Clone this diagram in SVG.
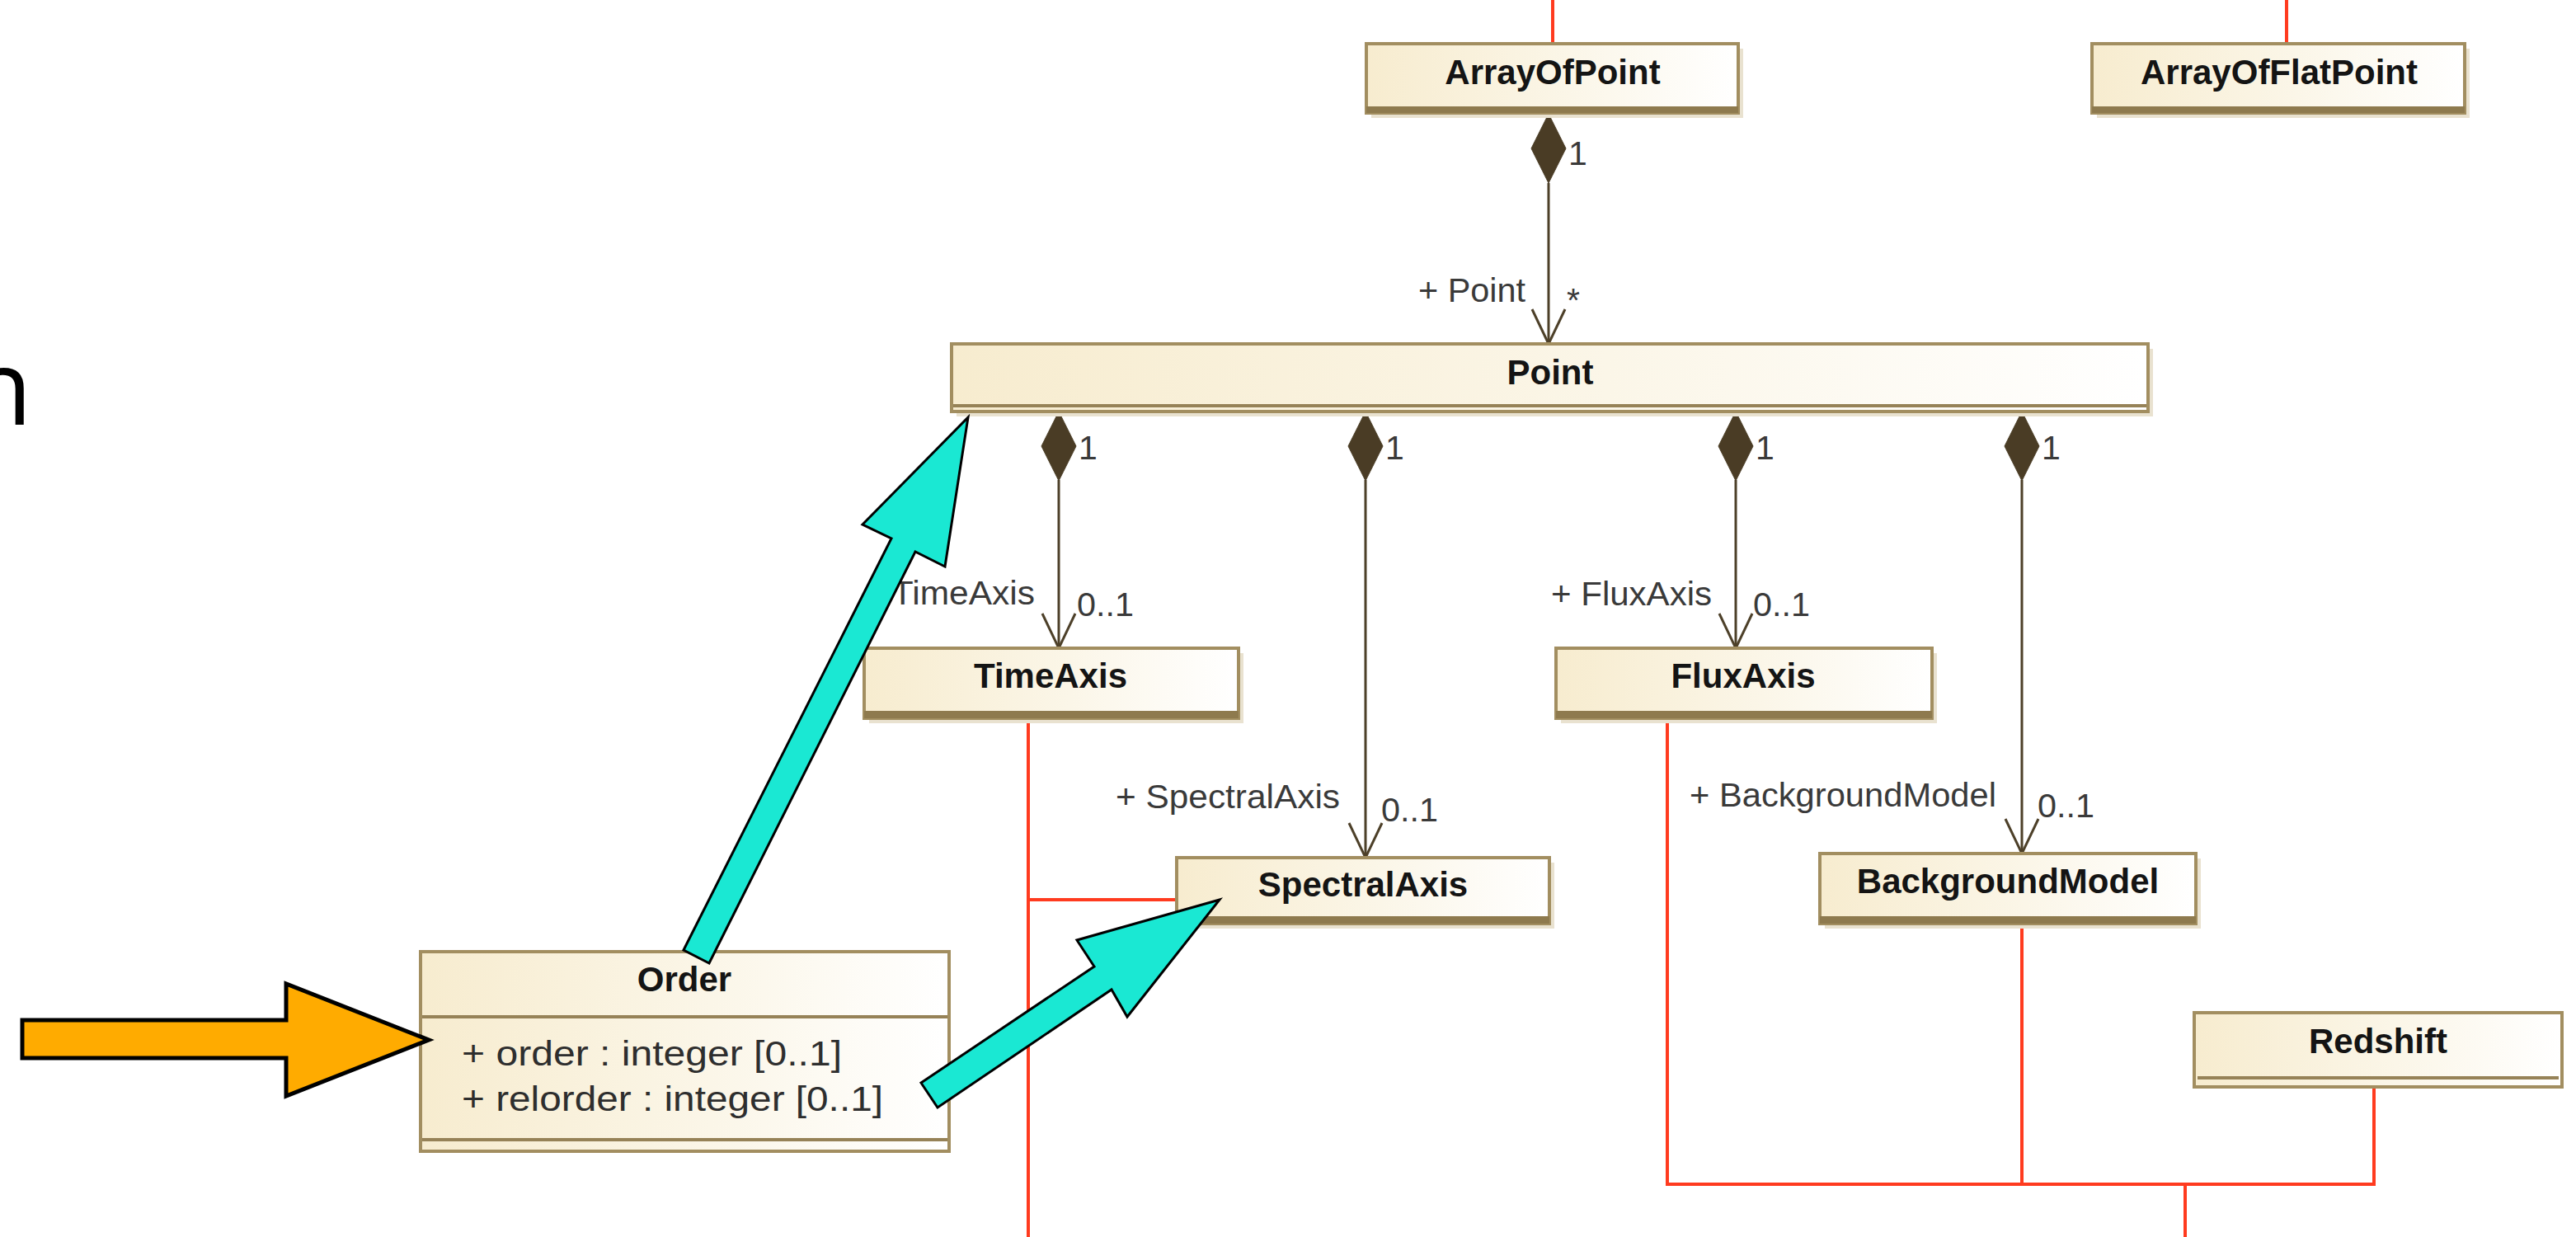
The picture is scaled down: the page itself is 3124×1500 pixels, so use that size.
<svg xmlns="http://www.w3.org/2000/svg" xmlns:xlink="http://www.w3.org/1999/xlink" width="3124" height="1500" viewBox="0 0 3124 1500">
  <defs>
    <linearGradient id="classFill" x1="0" y1="0" x2="1" y2="0">
      <stop offset="0" stop-color="#F7ECCF"/>
      <stop offset="0.55" stop-color="#FBF6E8"/>
      <stop offset="1" stop-color="#FFFFFF"/>
    </linearGradient>
    <!-- filled composition diamond, tip at origin pointing up -->
    <path id="diamond" d="M0,0 L21,42 L0,84 L-21,42 Z"/>
    <!-- open navigability arrowhead, tip at origin pointing down -->
    <path id="vee" d="M-20,-42 L0,0 L20,-42"/>
    <style>
      .shadow { fill: #E9E2D0; }
      .box { fill: url(#classFill); stroke: #A28E60; stroke-width: 4; }
      .band { fill: #8E7A4E; }
      .sep { stroke: #968257; stroke-width: 4; fill: none; }
      .name { font-family: "Liberation Sans", Arial, sans-serif; font-weight: bold; font-size: 42px; fill: #141414; text-anchor: middle; }
      .attr { font-family: "Liberation Sans", Arial, sans-serif; font-size: 42px; fill: #2E2E2E; }
      .role { font-family: "Liberation Sans", Arial, sans-serif; font-size: 41px; fill: #3A3A3A; }
      .assoc { stroke: #4D4029; stroke-width: 3; fill: none; }
      .dia { fill: #4A3C25; stroke: #4A3C25; stroke-width: 1; }
      .vee { stroke: #4D4029; stroke-width: 3; fill: none; }
      .gen { stroke: #FF3B1F; stroke-width: 4; fill: none; }
      .callout { fill: #1AE8D3; stroke: #000; stroke-width: 3; stroke-linejoin: miter; }
      .pointer { fill: #FFAB00; stroke: #000; stroke-width: 5; stroke-linejoin: miter; }
      .big { font-family: "Open Sans", "Liberation Sans", sans-serif; font-size: 126px; fill: #000; }
    </style>
  </defs>

  <rect width="3124" height="1500" fill="#FFFFFF"/>

  <!-- fragment of a slide caption running off the left edge -->
  <text class="big" x="39" y="515" text-anchor="end">n</text>

  <!-- hierarchy lines (red) -->
  <g id="hierarchy">
    <path class="gen" d="M1883,0 V53"/>
    <path class="gen" d="M2773,0 V53"/>
    <path class="gen" d="M1247,873 V1500 M1247,1091 H1427"/>
    <path class="gen" d="M2022,873 V1436 H2879 V1320"/>
    <path class="gen" d="M2452,1122 V1436"/>
    <path class="gen" d="M2650,1436 V1500"/>
  </g>

  <!-- compositions -->
  <g id="connectors">
    <path class="assoc" d="M1878,222 V417"/>
    <path class="assoc" d="M1284,582 V786"/>
    <path class="assoc" d="M1656,582 V1040"/>
    <path class="assoc" d="M2105,582 V786"/>
    <path class="assoc" d="M2452,582 V1035"/>

    <use href="#diamond" xlink:href="#diamond" class="dia" x="1878" y="138"/>
    <use href="#diamond" xlink:href="#diamond" class="dia" x="1284" y="499"/>
    <use href="#diamond" xlink:href="#diamond" class="dia" x="1656" y="499"/>
    <use href="#diamond" xlink:href="#diamond" class="dia" x="2105" y="499"/>
    <use href="#diamond" xlink:href="#diamond" class="dia" x="2452" y="499"/>

    <use href="#vee" xlink:href="#vee" class="vee" x="1878" y="417"/>
    <use href="#vee" xlink:href="#vee" class="vee" x="1284" y="786"/>
    <use href="#vee" xlink:href="#vee" class="vee" x="1656" y="1040"/>
    <use href="#vee" xlink:href="#vee" class="vee" x="2105" y="786"/>
    <use href="#vee" xlink:href="#vee" class="vee" x="2452" y="1035"/>

    <text class="role" x="1902" y="200">1</text>
    <text class="role" x="1308" y="557">1</text>
    <text class="role" x="1680" y="557">1</text>
    <text class="role" x="2129" y="557">1</text>
    <text class="role" x="2476" y="557">1</text>

    <text class="role" x="1720" y="366" textLength="130" lengthAdjust="spacingAndGlyphs">+ Point</text>
    <text class="role" x="1900" y="378">*</text>

    <text class="role" x="1046" y="733" textLength="209" lengthAdjust="spacingAndGlyphs">+ TimeAxis</text>
    <text class="role" x="1306" y="747" textLength="69" lengthAdjust="spacingAndGlyphs">0..1</text>

    <text class="role" x="1881" y="734" textLength="195" lengthAdjust="spacingAndGlyphs">+ FluxAxis</text>
    <text class="role" x="2126" y="747" textLength="69" lengthAdjust="spacingAndGlyphs">0..1</text>

    <text class="role" x="1353" y="980" textLength="272" lengthAdjust="spacingAndGlyphs">+ SpectralAxis</text>
    <text class="role" x="1675" y="996" textLength="69" lengthAdjust="spacingAndGlyphs">0..1</text>

    <text class="role" x="2049" y="978" textLength="372" lengthAdjust="spacingAndGlyphs">+ BackgroundModel</text>
    <text class="role" x="2471" y="991" textLength="69" lengthAdjust="spacingAndGlyphs">0..1</text>
  </g>

  <!-- classes -->
  <g id="ArrayOfPoint">
    <rect class="shadow" x="1663" y="59" width="451" height="84"/>
    <rect class="box" x="1657" y="53" width="451" height="84"/>
    <rect class="band" x="1657" y="129" width="451" height="8"/>
    <text class="name" x="1883" y="102">ArrayOfPoint</text>
  </g>

  <g id="ArrayOfFlatPoint">
    <rect class="shadow" x="2543" y="59" width="452" height="84"/>
    <rect class="box" x="2537" y="53" width="452" height="84"/>
    <rect class="band" x="2537" y="129" width="452" height="8"/>
    <text class="name" x="2764" y="102">ArrayOfFlatPoint</text>
  </g>

  <g id="Point">
    <rect class="shadow" x="1160" y="423" width="1451" height="82"/>
    <rect class="box" x="1154" y="417" width="1451" height="82"/>
    <path class="sep" d="M1156,492 H2603"/>
    <text class="name" x="1880" y="466">Point</text>
  </g>

  <g id="TimeAxis">
    <rect class="shadow" x="1054" y="792" width="454" height="85"/>
    <rect class="box" x="1048" y="786" width="454" height="85"/>
    <rect class="band" x="1048" y="862" width="454" height="9"/>
    <text class="name" x="1274" y="834">TimeAxis</text>
  </g>

  <g id="FluxAxis">
    <rect class="shadow" x="1893" y="792" width="456" height="85"/>
    <rect class="box" x="1887" y="786" width="456" height="85"/>
    <rect class="band" x="1887" y="862" width="456" height="9"/>
    <text class="name" x="2114" y="834">FluxAxis</text>
  </g>

  <g id="SpectralAxis">
    <rect class="shadow" x="1433" y="1046" width="452" height="80"/>
    <rect class="box" x="1427" y="1040" width="452" height="80"/>
    <rect class="band" x="1427" y="1111" width="452" height="9"/>
    <text class="name" x="1653" y="1087">SpectralAxis</text>
  </g>

  <g id="BackgroundModel">
    <rect class="shadow" x="2213" y="1041" width="456" height="85"/>
    <rect class="box" x="2207" y="1035" width="456" height="85"/>
    <rect class="band" x="2207" y="1111" width="456" height="9"/>
    <text class="name" x="2435" y="1083">BackgroundModel</text>
  </g>

  <g id="Redshift">
    <rect class="box" x="2661" y="1228" width="446" height="90"/>
    <path class="sep" d="M2665,1307 H3103"/>
    <text class="name" x="2884" y="1277">Redshift</text>
  </g>

  <g id="Order">
    <rect class="box" x="510" y="1154" width="641" height="242"/>
    <path class="sep" d="M512,1233 H1149"/>
    <text class="name" x="830" y="1202">Order</text>
    <text class="attr" x="560" y="1292" textLength="461" lengthAdjust="spacingAndGlyphs">+ order : integer [0..1]</text>
    <text class="attr" x="560" y="1347" textLength="511" lengthAdjust="spacingAndGlyphs">+ relorder : integer [0..1]</text>
    <path class="sep" d="M512,1382 H1149"/>
  </g>

  <!-- highlight arrows -->
  <g id="highlights">
    <polygon id="to-point" class="callout" points="829,1152 1081,653 1046,636 1174,506 1146,687 1110,669 860,1168"/>
    <polygon id="to-spectral" class="callout" points="1117,1313 1327,1172 1306,1140 1479,1091 1367,1233 1348,1200 1137,1343"/>
    <polygon id="to-order" class="pointer" points="27,1237 347,1237 347,1193 520,1261 347,1329 347,1283 27,1283"/>
  </g>
</svg>
